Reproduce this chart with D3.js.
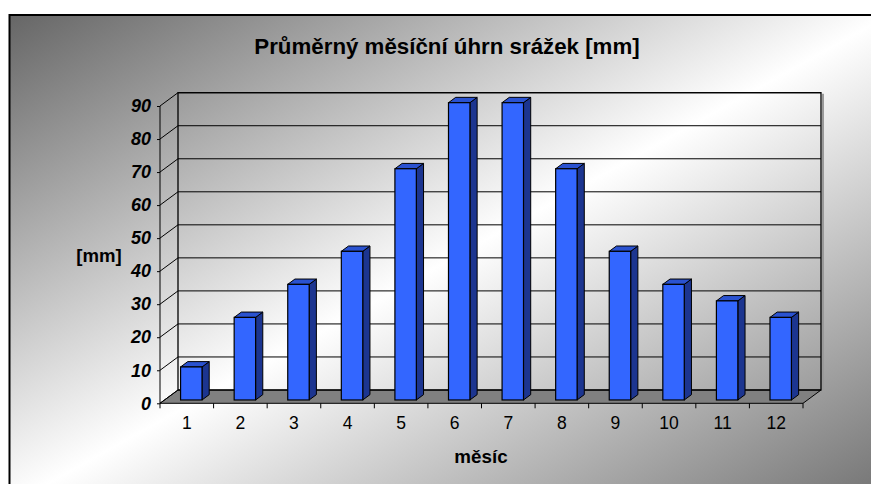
<!DOCTYPE html>
<html>
<head>
<meta charset="utf-8">
<script src="https://cdn.jsdelivr.net/npm/d3@7"></script>
<style>
  html, body { margin: 0; padding: 0; background: #ffffff; }
  svg { display: block; font-family: "Liberation Sans", Arial, sans-serif; }
</style>
</head>
<body>
<svg id="chart" width="871" height="484"></svg>
<script>
// Average monthly precipitation [mm]
const months = ["1", "2", "3", "4", "5", "6", "7", "8", "9", "10", "11", "12"];
const rainfall = [10, 25, 35, 45, 70, 90, 90, 70, 45, 35, 30, 25];
const yTicks = [0, 10, 20, 30, 40, 50, 60, 70, 80, 90];

const titleText = "Průměrný měsíční úhrn srážek [mm]";
const xTitle = "měsíc";
const yTitle = "[mm]";

const svg = d3.select("#chart");

// Background gradient of the chart area
const defs = svg.append("defs");
const grad = defs.append("linearGradient")
  .attr("id", "bg").attr("x1", 0).attr("y1", 0).attr("x2", 1).attr("y2", 1);
grad.append("stop").attr("offset", 0).attr("stop-color", "#666666");
grad.append("stop").attr("offset", 0.5).attr("stop-color", "#ffffff");
grad.append("stop").attr("offset", 1).attr("stop-color", "#707070");

svg.append("rect")
  .attr("x", 9.5).attr("y", 15).attr("width", 880).attr("height", 490)
  .attr("fill", "url(#bg)").attr("stroke", "#000").attr("stroke-width", 2);

// Front plane scales and depth vector of the 3D box
const x = d3.scaleBand().domain(months).range([160, 803]).padding(0);
const y = d3.scaleLinear().domain([0, 90]).range([403.3, 106]);
const DX = 18, DY = -13.3;

const g = svg.append("g");

// Floor
g.append("polygon")
  .attr("points", [[x.range()[0], y(0)], [x.range()[1], y(0)],
                   [x.range()[1] + DX, y(0) + DY], [x.range()[0] + DX, y(0) + DY]].map(p => p.join(",")).join(" "))
  .attr("fill", "#808080").attr("stroke", "#000").attr("stroke-width", 1);

// Back wall gridlines and left wall diagonals
g.selectAll("line.grid").data(yTicks.filter(v => v > 0)).join("line")
  .attr("class", "grid")
  .attr("x1", x.range()[0] + DX).attr("x2", x.range()[1] + DX)
  .attr("y1", d => y(d) + DY).attr("y2", d => y(d) + DY)
  .attr("stroke", "#000").attr("stroke-width", 1);
g.selectAll("line.diag").data(yTicks).join("line")
  .attr("class", "diag")
  .attr("x1", x.range()[0]).attr("y1", d => y(d))
  .attr("x2", x.range()[0] + DX).attr("y2", d => y(d) + DY)
  .attr("stroke", "#000").attr("stroke-width", 1);

// Back wall frame with a soft shadow on the right
g.append("line")
  .attr("x1", x.range()[1] + DX + 2).attr("x2", x.range()[1] + DX + 2)
  .attr("y1", y(90) + DY + 1).attr("y2", y(0) + DY)
  .attr("stroke", "#9a9a9a").attr("stroke-width", 2);
g.append("rect")
  .attr("x", x.range()[0] + DX).attr("y", y(90) + DY)
  .attr("width", x.range()[1] - x.range()[0]).attr("height", y(0) - y(90))
  .attr("fill", "none").attr("stroke", "#000").attr("stroke-width", 1.3);

// Y axis line on the front plane
g.append("line")
  .attr("x1", x.range()[0]).attr("x2", x.range()[0])
  .attr("y1", y(90)).attr("y2", y(0))
  .attr("stroke", "#000").attr("stroke-width", 1);

// Bars: front, side and top faces
const z0 = 0.25, z1 = 0.65;
const bw = x.bandwidth() * 0.4;
const bars = g.selectAll("g.bar").data(months.map((m, i) => ({ m, v: rainfall[i] }))).join("g")
  .attr("class", "bar");
bars.each(function (d) {
  const sel = d3.select(this);
  const xl = x(d.m) + (x.bandwidth() - bw) / 2;
  const xr = xl + bw;
  const fx = DX * z0, fy = DY * z0, bx = DX * z1, by = DY * z1;
  const yt = y(d.v), yb = y(0);
  const pts = a => a.map(p => p.join(",")).join(" ");
  // side
  sel.append("polygon")
    .attr("points", pts([[xr + fx, yt + fy], [xr + bx, yt + by], [xr + bx, yb + by], [xr + fx, yb + fy]]))
    .attr("fill", "#1c3590").attr("stroke", "#000").attr("stroke-width", 1).attr("stroke-linejoin", "round");
  // top
  sel.append("polygon")
    .attr("points", pts([[xl + fx, yt + fy], [xr + fx, yt + fy], [xr + bx, yt + by], [xl + bx, yt + by]]))
    .attr("fill", "#2a52d0").attr("stroke", "#000").attr("stroke-width", 1).attr("stroke-linejoin", "round");
  // front
  sel.append("rect")
    .attr("x", xl + fx).attr("y", yt + fy)
    .attr("width", bw).attr("height", yb - yt)
    .attr("fill", "#3366ff").attr("stroke", "#000").attr("stroke-width", 1.2);
});

// Category tick marks at band boundaries
const bounds = months.map(m => x(m)).concat([x.range()[1]]);
g.selectAll("line.xtick").data(bounds).join("line")
  .attr("class", "xtick")
  .attr("x1", d => d).attr("x2", d => d)
  .attr("y1", y(0)).attr("y2", y(0) + 5)
  .attr("stroke", "#000").attr("stroke-width", 1);

// X labels via axis
const xAxis = svg.append("g")
  .attr("transform", `translate(0,${y(0)})`)
  .call(d3.axisBottom(x).tickSize(0).tickPadding(13));
xAxis.select(".domain").remove();
xAxis.selectAll("text")
  .attr("font-family", "Liberation Sans, Arial, sans-serif")
  .attr("font-size", 17.5).attr("fill", "#000");

// Y labels via axis
const yAxis = svg.append("g")
  .attr("transform", `translate(${x.range()[0]},0)`)
  .call(d3.axisLeft(y).tickValues(yTicks).tickSize(3).tickPadding(6));
yAxis.select(".domain").remove();
yAxis.selectAll("line").attr("stroke", "#000");
yAxis.selectAll("text")
  .attr("font-family", "Liberation Sans, Arial, sans-serif")
  .attr("font-size", 18).attr("font-weight", "bold").attr("font-style", "italic")
  .attr("fill", "#000");

// Titles
svg.append("text")
  .attr("x", 447).attr("y", 54).attr("text-anchor", "middle")
  .attr("font-size", 22.3).attr("font-weight", "bold").attr("fill", "#000")
  .text(titleText);
svg.append("text")
  .attr("x", 481).attr("y", 463).attr("text-anchor", "middle")
  .attr("font-size", 18.8).attr("font-weight", "bold").attr("fill", "#000")
  .text(xTitle);
svg.append("text")
  .attr("x", 99).attr("y", 262).attr("text-anchor", "middle")
  .attr("font-size", 18.6).attr("font-weight", "bold").attr("fill", "#000")
  .text(yTitle);
</script>
</body>
</html>
